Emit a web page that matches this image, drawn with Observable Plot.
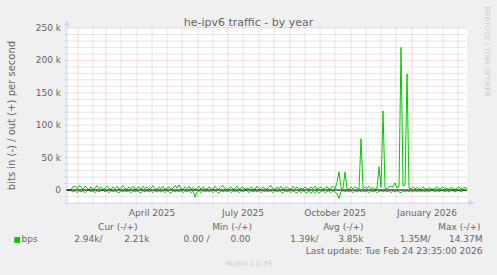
<!DOCTYPE html>
<html><head><meta charset="utf-8">
<script src="https://cdn.jsdelivr.net/npm/d3@7"></script>
<script src="https://cdn.jsdelivr.net/npm/@observablehq/plot@0.6"></script>
<style>html,body{margin:0;padding:0;background:#F0F0F0;} svg{display:block}</style>
</head><body><div id="chart"></div>
<script>
const title = "he-ipv6 traffic - by year";
const yLabel = "bits in (-) / out (+) per second";
const seriesName = "bps";
const lastUpdate = "Last update: Tue Feb 24 23:35:00 2026";
const footer = "Munin 2.0.76";
const watermark = "RRDTOOL / TOBI OETIKER";
const rangeStart = "2025-01-20T23:35:00Z";
const rangeEnd = "2026-02-24T23:35:00Z";
const dataStart = "2025-01-21T00:00:00Z";
const stepDays = 2;
// out traffic (k bits/s), one value every 2 days
const outK = [
  0, 0.5, 1, 5, 6, 2, 7, 4, 1, 6,
  3, 0, 5, 1, 3, 7, 2, 5, 1, 3,
  6, 2, 1, 5, 2, 6, 1, 4, 7, 2,
  1, 5, 2, 6, 1, 3, 5, 1, 6, 2,
  5, 1, 3, 7, 2, 1, 5, 2, 6, 1,
  3, 5, 1, 3, 7, 3, 8, 2, 1, 5,
  2, 6, 1, 4, 0, 3, 6, 1, 5, 2,
  1, 5, 2, 1, 6, 2, 1, 5, 7, 2,
  1, 3, 5, 1, 3, 6, 1, 3, 5, 1,
  3, 1, 5, 2, 1, 6, 2, 1, 5, 2,
  1, 5, 7, 2, 1, 5, 2, 6, 1, 3,
  5, 2, 1, 6, 2, 5, 1, 3, 1, 5,
  2, 1, 5, 2, 6, 1, 3, 5, 1, 3,
  5, 1, 3, 6, 2, 12, 28, 3, 2, 28,
  2, 1, 5, 2, 5, 3, 2, 79, 2, 5,
  2, 6, 2, 4, 1, 3, 36, 4, 122, 3,
  2, 5, 6, 5, 11, 3, 5, 220, 6, 8,
  179, 3, 2, 5, 1, 4, 2, 1, 5, 2,
  1, 4, 2, 1, 3, 5, 1, 3, 5, 1,
  3, 1, 4, 2, 1, 3, 5, 1, 3, 4,
  2
];
// in traffic (k bits/s), drawn below zero
const inK = [
  0, 0.5, 1, 3, 1, 4, 1, 3, 1, 4,
  1, 0, 3, 1, 4, 1, 3, 1, 0, 3,
  1, 4, 1, 3, 1, 3, 4, 1, 3, 1,
  3, 1, 4, 1, 3, 1, 3, 4, 1, 3,
  1, 3, 1, 4, 1, 3, 1, 3, 1, 4,
  1, 3, 5, 1, 3, 1, 3, 1, 4, 1,
  3, 1, 4, 1, 11, 3, 1, 4, 1, 3,
  1, 3, 1, 4, 1, 3, 5, 1, 3, 1,
  3, 1, 4, 1, 3, 1, 4, 1, 3, 1,
  1, 4, 1, 3, 1, 3, 1, 4, 1, 3,
  1, 3, 1, 4, 1, 3, 1, 3, 4, 1,
  3, 1, 4, 1, 3, 5, 1, 4, 1, 3,
  4, 1, 5, 2, 4, 1, 5, 2, 1, 4,
  2, 1, 4, 1, 3, 6, 13, 2, 1, 3,
  1, 3, 1, 4, 1, 3, 1, 3, 1, 3,
  1, 4, 1, 3, 1, 4, 2, 1, 3, 1,
  3, 1, 4, 1, 3, 1, 3, 4, 1, 3,
  1, 3, 1, 3, 1, 3, 1, 3, 1, 3,
  1, 3, 1, 1, 3, 1, 3, 1, 1, 3,
  1, 3, 1, 1, 3, 1, 1, 3, 1, 1,
  1
];
const yMin = -20000, yMax = 250000;
const yTicks = [0, 50000, 100000, 150000, 200000, 250000];
const yTickLabels = ["0", "50 k", "100 k", "150 k", "200 k", "250 k"];
const xLabelDates = ["2025-04-16", "2025-07-16", "2025-10-16", "2026-01-16"];
const xLabelTexts = ["April 2025", "July 2025", "October 2025", "January 2026"];
const legendHeaders = ["Cur (-/+)", "Min (-/+)", "Avg (-/+)", "Max (-/+)"];
const legendIn = ["2.94k/", "0.00 /", "1.39k/", "1.35M/"];
const legendOut = ["2.21k", "0.00", "3.85k", "14.37M"];

const GREEN = "#00CC00", AXIS = "#CFD6F8", FONT = "#666666";
const MGRID = "rgba(255,0,0,0.27)", GRID = "rgba(128,128,128,0.38)";
const ML = 66.5, MT = 27.5, MR = 30.5, MB = 72.5;

const t0 = new Date(dataStart).getTime();
const DAY = 864e5;
const outData = outK.map((v, i) => ({date: new Date(t0 + i * stepDays * DAY), value: v * 1000}));
const inData = inK.map((v, i) => ({date: new Date(t0 + i * stepDays * DAY), value: -v * 1000}));
const start = new Date(rangeStart), end = new Date(rangeEnd);
const majorX = d3.utcMonth.range(d3.utcMonth.ceil(start), end);
const minorX = d3.utcMonth.range(d3.utcMonth.floor(start), end).map(d => d3.utcDay.offset(d, 15)).filter(d => d > start && d < end);
const minorY = d3.range(-10000, 250000, 10000).filter(v => v % 50000 !== 0);

function txt(s, x, y, o = {}) {
  return Plot.text([s], {text: d => d, frameAnchor: "top-left", dx: x - ML, dy: y - MT,
    textAnchor: "middle", lineAnchor: "middle", fill: FONT, fontSize: 9, ...o});
}
const headerRight = [137, 251.5, 363, 480];
const inRight = [102, 209, 318, 430];
const outRight = [149, 250, 363, 482];

const chart = Plot.plot({
  width: 497, height: 275,
  marginLeft: ML, marginTop: MT, marginRight: MR, marginBottom: MB,
  style: {background: "#F0F0F0", fontFamily: "DejaVu Sans, sans-serif"},
  x: {type: "utc", domain: [start, end], axis: null},
  y: {domain: [yMin, yMax], axis: null},
  marks: [
    Plot.frame({fill: "white", stroke: "none"}),
    Plot.ruleY(minorY, {stroke: GRID, strokeDasharray: "1,1", insetLeft: -2}),
    Plot.ruleX(minorX, {stroke: GRID, strokeDasharray: "1,1", insetBottom: -2}),
    Plot.ruleY(yTicks, {stroke: MGRID, strokeDasharray: "1,1", insetLeft: -2}),
    Plot.ruleX(majorX, {stroke: MGRID, strokeDasharray: "1,1", insetBottom: -3}),
    Plot.ruleX([start], {stroke: AXIS, insetTop: -4, insetBottom: -3}),
    Plot.ruleY([yMin], {stroke: AXIS, insetLeft: -3, insetRight: -4}),
    Plot.dot([start], {x: d => d, frameAnchor: "top", dy: -4, symbol: "triangle", r: 2.3, fill: AXIS}),
    Plot.dot([end], {x: d => d, frameAnchor: "bottom", dx: 4, rotate: 90, symbol: "triangle", r: 2.3, fill: AXIS}),
    Plot.line(inData, {x: "date", y: "value", stroke: GREEN, strokeWidth: 1}),
    Plot.line(outData, {x: "date", y: "value", stroke: GREEN, strokeWidth: 1}),
    Plot.ruleY([0], {stroke: "#000", strokeWidth: 1.1}),
    Plot.text(yTicks, {y: d => d, text: (d, i) => yTickLabels[i], frameAnchor: "left", dx: -6, textAnchor: "end", fill: FONT, fontSize: 9}),
    Plot.text(xLabelDates, {x: d => new Date(d), text: (d, i) => xLabelTexts[i], frameAnchor: "bottom", dy: 10, lineAnchor: "middle", fill: FONT, fontSize: 9}),
    txt(title, 248, 21.5, {fontSize: 11}),
    txt(yLabel, 11.5, 115, {rotate: -90, fontSize: 10}),
    txt(watermark, 487, 51, {rotate: 90, fontSize: 7, fill: "#cccccc"}),
    ...legendHeaders.map((h, i) => txt(h, headerRight[i], 227, {textAnchor: "end"})),
    Plot.dot([0], {frameAnchor: "top-left", dx: 16.7 - ML, dy: 239.5 - MT, symbol: "square", r: 3.3, fill: GREEN}),
    txt(seriesName, 21, 239, {textAnchor: "start"}),
    ...legendIn.map((v, i) => txt(v, inRight[i], 239, {textAnchor: "end"})),
    ...legendOut.map((v, i) => txt(v, outRight[i], 239, {textAnchor: "end"})),
    txt(lastUpdate, 482, 251, {textAnchor: "end"}),
    txt(footer, 248.5, 263.5, {fontSize: 7, fill: "#cccccc"})
  ]
});
document.getElementById("chart").append(chart);
</script>
</body></html>
